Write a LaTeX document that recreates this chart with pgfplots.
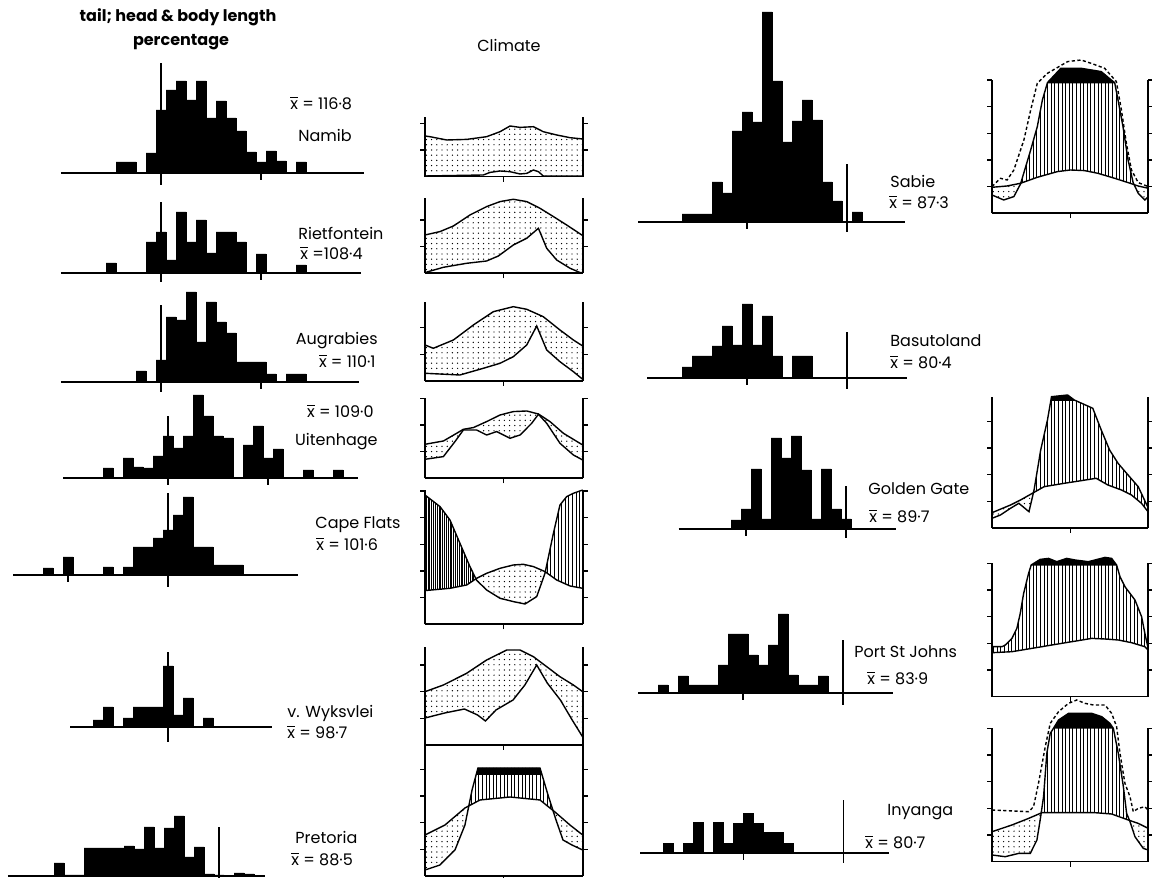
\documentclass[border=0pt]{standalone}
\usepackage{fontspec}
\setmainfont{Poppins}
\usepackage{pgfplots}
\pgfplotsset{compat=1.18}
\usepgfplotslibrary{fillbetween}
\usetikzlibrary{patterns.meta}

\newcommand{\xb}{\ensuremath{\overline{\mbox{x}}}}

\tikzset{
  dotfill/.style={pattern={Dots[distance=2.6pt,radius=0.35pt]}},
  hatchfill/.style={pattern={Lines[angle=90,distance=1.8pt,line width=0.45pt]}},
  densefill/.style={pattern={Lines[angle=90,distance=1.1pt,line width=0.6pt]}},
  nofill/.style={fill opacity=0},
  lab/.style={font=\fontsize{8}{9}\selectfont, inner sep=0pt},
}
\pgfplotsset{
  hist/.style={x=2.5pt, y=0.5pt, anchor=south west, ymin=0, clip=false,
    axis x line=bottom, axis y line=none, axis line style={-, line width=1pt},
    xticklabels={}, tick align=outside, major tick length=3.5pt,
    tick style={black, line width=0.8pt}},
  clim/.style={y=0.5pt, anchor=south west, xmin=0, xmax=12, ymin=0, clip=false, set layers,
    axis x line=bottom, axis y line=box, axis line style={-, line width=0.8pt},
    xtick={6}, xticklabels={}, ytick={26.7,53.3,80,106.7,133.3}, yticklabels={},
    tick align=outside, major tick length=2.5pt, tick style={black, line width=0.6pt}},
  clc/.style={black, line width=0.7pt},
  dsh/.style={black, line width=0.7pt, dash pattern=on 1.6pt off 1.2pt},
  hbar/.style={ybar interval, fill=black, draw=black, line width=0.3pt},
  refline/.style={black, line width=0.8pt},
}

\begin{document}
\begin{tikzpicture}[x=0.5pt,y=0.5pt]

% ---------- headings ----------
\node[lab, font=\fontsize{8}{9}\selectfont\bfseries] at (178,861) {tail; head \& body length};
\node[lab, font=\fontsize{8}{9}\selectfont\bfseries] at (181,836) {percentage};
\node[lab] at (509,833) {Climate};

% ---------- left column histograms ----------
% Namib
\begin{axis}[hist, at={(30.5pt,352.5pt)}, xmin=80, xmax=140.5, xtick={100,120}]
\addplot[hbar] coordinates {(91,11) (93,11) (95,0) (97,20) (99,63) (101,83) (103,92) (105,73) (107,92) (109,55) (111,72) (113,55) (115,42) (117,21) (119,11) (121,22) (123,12) (125,0) (127,11) (129,0)};
\addplot[refline] coordinates {(100,-12) (100,110)};
\end{axis}
% Rietfontein
\begin{axis}[hist, at={(30.5pt,302.5pt)}, xmin=80, xmax=140, xtick={100,120}]
\addplot[hbar] coordinates {(89,10) (91,0) (93,0) (95,0) (97,31) (99,41) (101,13) (103,61) (105,31) (107,53) (109,20) (111,41) (113,41) (115,31) (117,0) (119,19) (121,0) (123,0) (125,0) (127,8) (129,0)};
\addplot[refline] coordinates {(100,-9) (100,71)};
\end{axis}
% Augrabies
\begin{axis}[hist, at={(30.5pt,248pt)}, xmin=80, xmax=139.5, xtick={100,120}]
\addplot[hbar] coordinates {(95,11) (97,0) (99,22) (101,65) (103,62) (105,90) (107,40) (109,80) (111,60) (113,49) (115,20) (117,20) (119,20) (121,8) (123,0) (125,8) (127,8) (129,0)};
\addplot[refline] coordinates {(100,-10) (100,77)};
\end{axis}
% Uitenhage
\begin{axis}[hist, at={(31.5pt,200pt)}, xmin=79, xmax=138, xtick={100,120}]
\addplot[hbar] coordinates {(87,10) (89,0) (91,20) (93,11) (95,10) (97,22) (99,42) (101,30) (103,42) (105,83) (107,62) (109,42) (111,40) (113,0) (115,33) (117,52) (119,20) (121,29) (123,0) (125,0) (127,8) (129,0) (131,0) (133,8) (135,0)};
\addplot[refline] coordinates {(100,-6) (100,62)};
\end{axis}
% Cape Flats
\begin{axis}[hist, at={(6.5pt,151.5pt)}, xmin=69, xmax=126, xtick={80,100}]
\addplot[hbar] coordinates {(75,7) (77,0) (79,18) (81,0) (83,0) (85,0) (87,8) (89,0) (91,8) (93,28) (95,28) (97,37) (99,45) (101,60) (103,78) (105,28) (107,28) (109,10) (111,10) (113,10) (115,0)};
\addplot[refline] coordinates {(100,-12) (100,82)};
\end{axis}
% v. Wyksvlei
\begin{axis}[hist, at={(35pt,75.5pt)}, xmin=80.4, xmax=120.8, xtick={100}]
\addplot[hbar] coordinates {(85,7) (87,20) (89,0) (91,9) (93,20) (95,20) (97,20) (99,61) (101,12) (103,29) (105,0) (107,9) (109,0)};
\addplot[refline] coordinates {(100,-15) (100,75)};
\end{axis}
% Pretoria
\begin{axis}[hist, at={(4pt,1pt)}, xmin=57.8, xmax=109.2, xtick={100}]
\addplot[hbar] coordinates {(67,13) (69,1) (71,1) (73,28) (75,28) (77,28) (79,28) (81,30) (83,27) (85,49) (87,28) (89,48) (91,60) (93,19) (95,29) (97,2) (99,1) (101,0) (103,3) (105,2) (107,0)};
\addplot[refline] coordinates {(100,0) (100,49)};
\end{axis}

% ---------- right column histograms ----------
% Sabie
\begin{axis}[hist, at={(319pt,328pt)}, xmin=58.2, xmax=111.5, xtick={80,100}]
\addplot[hbar] coordinates {(67,8) (69,8) (71,8) (73,40) (75,29) (77,91) (79,110) (81,100) (83,210) (85,141) (87,80) (89,101) (91,122) (93,102) (95,40) (97,21) (99,0) (101,10) (103,0)};
\addplot[refline] coordinates {(100,-10) (100,58)};
\end{axis}
% Basutoland
\begin{axis}[hist, at={(323.5pt,250pt)}, xmin=60, xmax=112, xtick={80,100}]
\addplot[hbar] coordinates {(67,11) (69,22) (71,22) (73,32) (75,52) (77,33) (79,74) (81,33) (83,62) (85,22) (87,0) (89,22) (91,22) (93,0)};
\addplot[refline] coordinates {(100,-11) (100,46)};
\end{axis}
% Golden Gate
\begin{axis}[hist, at={(339.25pt,174.5pt)}, xmin=66.5, xmax=110, xtick={80,100}]
\addplot[hbar] coordinates {(77,9) (79,20) (81,60) (83,10) (85,91) (87,71) (89,93) (91,59) (93,10) (95,60) (97,20) (99,10) (101,0)};
\addplot[refline] coordinates {(100,-9) (100,43)};
\end{axis}
% Port St Johns
\begin{axis}[hist, at={(319pt,92.5pt)}, xmin=59, xmax=110, xtick={80,100}]
\addplot[hbar] coordinates {(63,8) (65,0) (67,17) (69,8) (71,8) (73,8) (75,28) (77,59) (79,59) (81,38) (83,28) (85,48) (87,79) (89,18) (91,8) (93,8) (95,17) (97,0)};
\addplot[refline] coordinates {(100,-12) (100,53)};
\end{axis}
% Inyanga
\begin{axis}[hist, at={(320pt,12.65pt)}, xmin=59.3, xmax=109, xtick={80,100}]
\addplot[hbar] coordinates {(64,9) (66,0) (68,9) (70,30) (72,0) (74,30) (76,9) (78,29) (80,39) (82,29) (84,20) (86,20) (88,9) (90,0)};
\addplot[refline] coordinates {(100,-10) (100,53)};
\end{axis}

% ---------- left column climate diagrams ----------
% Namib
\begin{axis}[clim, x=6.571pt, at={(212.5pt,350.65pt)}, ymax=60]
\addplot[clc, name path=T] coordinates {(0,40.7) (0.38,40) (1.65,36.7) (3.17,37.3) (4.69,40) (5.71,45) (6.47,50.7) (7.23,49.3) (8.25,50) (9.0,45) (10.02,41.7) (11.04,39) (12,37.7)};
\addplot[clc, name path=P] coordinates {(0,0.7) (4.44,1.7) (4.95,4.3) (5.71,5.7) (6.47,5) (7.23,2.7) (7.74,3.3) (8.25,6.7) (8.63,5) (9.0,0.7) (12,0.7)};
\addplot[dotfill, draw=none] fill between[of=T and P];
\end{axis}
% Rietfontein
\begin{axis}[clim, x=6.571pt, at={(212.5pt,302.35pt)}, ymax=75]
\addplot[clc, name path=T] coordinates {(0,38.3) (1.14,41.7) (2.16,47.3) (3.42,58.3) (4.69,66.7) (5.71,71.7) (6.72,74) (7.74,71.7) (8.75,65) (9.77,56.7) (10.78,48.3) (12,37.7)};
\addplot[clc, name path=P] coordinates {(0,0.7) (1.4,6) (3.17,10) (4.69,12.3) (5.58,17.3) (6.72,28.3) (7.74,35) (8.63,45) (9.26,25) (10.02,13.3) (11.04,5) (11.8,0.7) (12,0.7)};
\addplot[dotfill, draw=none] fill between[of=T and P];
\end{axis}
% Augrabies
\begin{axis}[clim, x=6.571pt, at={(212.5pt,248.5pt)}, ymax=79]
\addplot[clc, name path=T] coordinates {(0,36) (0.63,32.7) (2.16,41) (3.68,56) (5.2,69.3) (6.72,74.3) (7.74,71.7) (9.0,64.3) (10.27,51) (11.29,41) (12,35)};
\addplot[clc, name path=P] coordinates {(0,7.7) (2.66,6) (4.44,12.7) (5.71,17.7) (6.72,24.3) (7.74,36) (8.5,55) (9.26,31) (10.27,19.3) (11.29,9.3) (12,1.7)};
\addplot[dotfill, draw=none] fill between[of=T and P];
\end{axis}
% Uitenhage
\begin{axis}[clim, x=6.571pt, at={(212.5pt,199.85pt)}, ymax=80]
\addplot[clc, name path=T] coordinates {(0,34) (1.4,37.3) (2.41,45) (2.92,49) (3.68,50.7) (4.69,56.7) (5.71,63.3) (6.72,66.7) (7.74,67.3) (8.63,64.3) (9.51,56.7) (10.53,45) (12,33.3)};
\addplot[clc, name path=P] coordinates {(0,19) (1.4,21.7) (2.28,36.7) (2.92,48.3) (3.93,48.3) (4.69,43.3) (5.45,46.7) (6.47,40) (7.23,43.3) (8.12,55) (8.63,64) (9.26,55) (10.27,35) (11.29,23.3) (12,18.3)};
\addplot[dotfill, draw=none] fill between[of=T and P];
\end{axis}
% Cape Flats
\begin{axis}[clim, x=6.571pt, at={(212.5pt,126.85pt)}, ymax=134]
\addplot[clc, name path=T] coordinates {(0,33.7) (1.9,36) (3.17,39.3) (3.93,46) (4.69,51) (5.71,56) (6.72,59.3) (7.48,60) (8.25,57.7) (9.13,52.7) (10.02,44.3) (11.04,38.3) (12,36)};
\addplot[clc, name path=P] coordinates {(0,129.3) (1.14,117.7) (1.9,104.3) (2.66,81) (3.42,57.7) (3.93,44) (4.69,34.3) (5.71,26) (6.72,22.7) (7.61,20.3) (8.5,27.7) (9.13,51) (9.77,91) (10.27,119.3) (10.78,127.7) (11.29,131) (12,134.3)};
\addplot[draw=none] fill between[of=T and P, split,
  every segment no 0/.style=densefill, every segment no 1/.style=dotfill,
  every segment no 2/.style=hatchfill];
\end{axis}
% v. Wyksvlei
\begin{axis}[clim, x=6.571pt, at={(212.5pt,66.5pt)}, ymax=98]
\addplot[clc, name path=T] coordinates {(0,53.3) (1.4,60) (3.17,71.7) (4.69,85) (6.22,95) (7.23,95) (8.25,88.3) (9.26,78.3) (10.27,68.3) (11.29,60) (12,53.3)};
\addplot[clc, name path=P] coordinates {(0,27) (1.5,32) (3.0,36) (4.0,30) (4.6,24) (5.4,35) (6.7,45) (7.6,60) (8.5,80) (9.3,62) (10.3,45) (11.2,25) (12,8)};
\addplot[dotfill, draw=none] fill between[of=T and P];
\end{axis}
% Pretoria
\begin{axis}[clim, x=6.571pt, at={(212.5pt,1pt)}, ymax=131]
\addplot[clc, name path=T] coordinates {(0,41) (1.52,51) (3.04,68) (4.18,76) (6.47,79) (8.75,76) (9.89,64) (11.03,51) (12,41)};
\addplot[clc, name path=P] coordinates {(0,6) (1.14,11) (2.28,26) (3.04,51) (3.58,86) (4.03,108) (6.5,108) (8.75,108) (9.36,81) (9.97,56) (10.5,36) (11.18,31) (12,26)};
\addplot[draw=none, name path=H] coordinates {(0,101) (12,101)};
\addplot[draw=none] fill between[of=T and P, split,
  every segment no 0/.style=dotfill, every segment no 1/.style=hatchfill,
  every segment no 2/.style=dotfill];
\addplot[draw=none] fill between[of=P and H, split,
  every segment no 0/.style=nofill, every segment no 1/.style={fill=black},
  every segment no 2/.style=nofill];
\end{axis}

% ---------- right column climate diagrams ----------
% Sabie
\begin{axis}[clim, x=6.51pt, at={(496pt,332.35pt)}, ymax=133.3]
\addplot[clc, name path=T] coordinates {(0,26) (1.16,27.3) (2.19,30) (3.48,36) (5.03,41.7) (6.01,43.3) (7.1,42.7) (8.13,40) (9.42,35) (10.45,30.7) (11.23,27.3) (12,25)};
\addplot[clc, name path=P] coordinates {(0,18.3) (0.9,13.3) (1.68,16.7) (2.19,29.3) (2.97,63.3) (3.48,86.7) (3.87,113.3) (4.26,130.7) (5.29,145) (6.84,145) (8.39,141.7) (9.16,133.3) (9.42,130.7) (9.68,113.3) (10.06,86.7) (10.45,53.3) (10.84,30.7) (11.23,20) (11.74,13.3) (12,16.7)};
\addplot[dsh] coordinates {(0,26.7) (0.65,35) (1.16,33.3) (1.68,43.3) (2.45,73.3) (2.97,103.3) (3.48,130) (4.26,140) (5.81,151.7) (6.84,153.3) (7.61,150) (8.65,145) (9.55,131.7) (9.94,103.3) (10.32,70) (10.71,43.3) (11.23,30.7) (12,26.7)};
\addplot[draw=none, name path=H] coordinates {(0,130) (12,130)};
\addplot[draw=none] fill between[of=T and P, split,
  every segment no 0/.style=dotfill, every segment no 1/.style=hatchfill,
  every segment no 2/.style=dotfill];
\addplot[draw=none] fill between[of=P and H, split,
  every segment no 0/.style=nofill, every segment no 1/.style={fill=black},
  every segment no 2/.style=nofill];
\end{axis}
% Golden Gate
\begin{axis}[clim, x=6.51pt, at={(496pt,175pt)}, ymax=131.3]
\addplot[clc, name path=T] coordinates {(0,15.3) (1.42,23) (2.19,28) (3.1,34.7) (4.0,41.3) (5.55,44.7) (6.84,47.3) (8.0,49.7) (8.9,43) (9.94,38) (10.71,33) (11.48,24.7) (12,16)};
\addplot[clc, name path=P] coordinates {(0,9.7) (0.65,13) (1.42,19.7) (2.06,24.7) (2.84,16.3) (3.23,38) (3.74,78) (4.26,108) (4.57,131.3) (5.81,133) (6.32,128) (7.74,119.7) (8.39,98) (9.03,78) (9.68,64.7) (10.45,53) (11.23,41.3) (12,20)};
\addplot[draw=none, name path=H] coordinates {(0,127) (12,127)};
\addplot[draw=none] fill between[of=T and P, split,
  every segment no 0/.style=dotfill, every segment no 1/.style=hatchfill];
\addplot[draw=none] fill between[of=P and H, split,
  every segment no 0/.style=nofill, every segment no 1/.style={fill=black},
  every segment no 2/.style=nofill];
\end{axis}
% Port St Johns
\begin{axis}[clim, x=6.51pt, at={(496pt,90.65pt)}, ymax=133.3]
\addplot[clc, name path=T] coordinates {(0,44) (1.53,45) (3.06,48.3) (4.6,51.7) (6.13,55) (7.66,58.3) (8.68,57.7) (9.7,56.7) (10.72,54) (11.74,50) (12,46.7)};
\addplot[clc, name path=P] coordinates {(0,50) (0.77,50) (1.02,51.7) (1.53,58.3) (1.91,68.3) (2.17,83.3) (2.43,103.3) (2.81,123.3) (3.01,131.7) (3.7,137.3) (4.34,138.3) (4.98,135) (5.74,138.3) (6.38,136.7) (7.4,135) (8.68,139.3) (9.19,138.3) (9.57,131.7) (9.83,120) (10.21,110) (10.98,96.7) (11.49,80) (11.74,63.3) (12,48)};
\addplot[draw=none, name path=H] coordinates {(0,131) (12,131)};
\addplot[hatchfill, draw=none] fill between[of=T and P];
\addplot[draw=none] fill between[of=P and H, split,
  every segment no 0/.style=nofill, every segment no 1/.style={fill=black},
  every segment no 2/.style=nofill];
\end{axis}
% Inyanga
\begin{axis}[clim, x=6.51pt, at={(496pt,8.15pt)}, ymax=133.3]
\addplot[clc, name path=T] coordinates {(0,30) (1.53,36.7) (2.81,43.3) (3.83,49) (5.36,49) (7.91,49) (9.19,47.7) (10.34,42.3) (11.23,38.3) (12,33.3)};
\addplot[clc, name path=P] coordinates {(0,6.7) (1.02,5) (2.04,8.3) (2.94,8.3) (3.45,21.7) (3.70,41.7) (3.96,65) (4.21,108.3) (4.47,128.3) (4.72,133.3) (5.11,141.7) (5.87,148.3) (7.66,148.3) (8.43,145) (9.06,138.3) (9.32,133.3) (9.70,108.3) (10.09,75) (10.34,48.3) (10.60,40) (10.98,25) (11.62,13.3) (12,11.7)};
\addplot[dsh] coordinates {(0,51.7) (2.81,50) (3.19,55) (3.57,78.3) (4.09,115) (4.47,138.3) (5.11,150) (5.87,158.3) (6.51,161.7) (7.15,158.3) (7.79,156.7) (8.68,156.7) (9.19,148.3) (9.57,135) (9.83,108.3) (10.21,78.3) (10.6,65) (10.85,50) (11.23,53.3) (11.74,55) (12,51.7)};
\addplot[draw=none, name path=H] coordinates {(0,133) (12,133)};
\addplot[draw=none] fill between[of=T and P, split,
  every segment no 0/.style=dotfill, every segment no 1/.style=hatchfill,
  every segment no 2/.style=dotfill];
\addplot[draw=none] fill between[of=P and H, split,
  every segment no 0/.style=nofill, every segment no 1/.style={fill=black},
  every segment no 2/.style=nofill];
\end{axis}

% ---------- station labels ----------
\node[lab, anchor=west] at (290,775) {\xb{} = 116·8};
\node[lab] at (325,743) {Namib};
\node[lab, anchor=west] at (298,645) {Rietfontein};
\node[lab, anchor=west] at (300,625) {\xb{} =108·4};
\node[lab, anchor=east] at (378,537) {Augrabies};
\node[lab, anchor=east] at (376,517) {\xb{} = 110·1};
\node[lab, anchor=east] at (374,467) {\xb{} = 109·0};
\node[lab, anchor=east] at (378,436) {Uitenhage};
\node[lab, anchor=west] at (315,353) {Cape Flats};
\node[lab, anchor=west] at (316,334) {\xb{} = 101·6};
\node[lab, anchor=west] at (287,165) {v. Wyksvlei};
\node[lab, anchor=west] at (287,146) {\xb{} = 98·7};
\node[lab, anchor=west] at (295,41) {Pretoria};
\node[lab, anchor=west] at (291,19) {\xb{} = 88·5};
\node[lab, anchor=west] at (890,697) {Sabie};
\node[lab, anchor=west] at (889,676) {\xb{} = 87·3};
\node[lab, anchor=west] at (890,537) {Basutoland};
\node[lab, anchor=west] at (890,516) {\xb{} = 80·4};
\node[lab, anchor=west] at (868,389) {Golden Gate};
\node[lab, anchor=west] at (869,362) {\xb{} = 89·7};
\node[lab, anchor=west] at (854,226) {Port St Johns};
\node[lab, anchor=west] at (867,200) {\xb{} = 83·9};
\node[lab, anchor=west] at (887,66) {Inyanga};
\node[lab, anchor=west] at (865,36) {\xb{} = 80·7};

\pgfresetboundingbox
\path[use as bounding box] (0,0) rectangle (1152,878);
\end{tikzpicture}
\end{document}
